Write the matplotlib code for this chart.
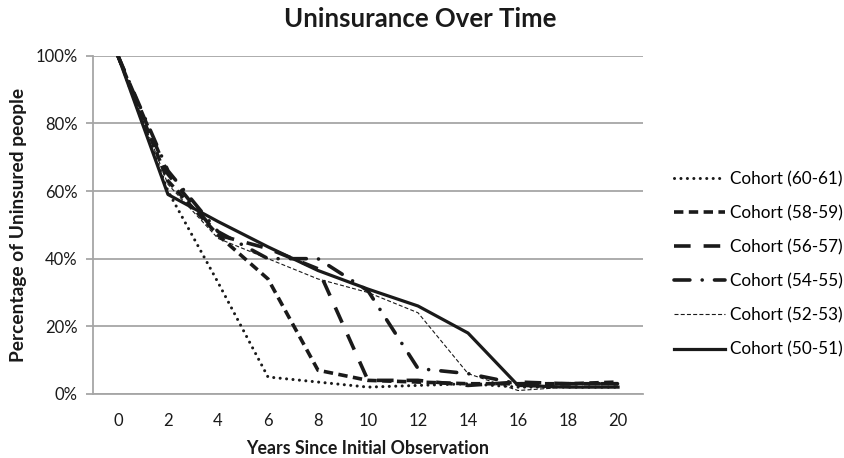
import matplotlib
matplotlib.use("Agg")
import matplotlib.pyplot as plt
from matplotlib.ticker import FuncFormatter

plt.rcParams['font.family'] = ['Lato', 'DejaVu Sans']

years = [0, 2, 4, 6, 8, 10, 12, 14, 16, 18, 20]
labels = ["Cohort (60-61)", "Cohort (58-59)", "Cohort (56-57)",
          "Cohort (54-55)", "Cohort (52-53)", "Cohort (50-51)"]
c_60_61 = [100, 60, 33, 5, 3.5, 2, 2.5, 3, 2, 2, 2]
c_58_59 = [100, 63, 47, 34, 7, 4, 3.5, 3, 3, 3, 3.5]
c_56_57 = [100, 65, 47, 43, 37, 4, 4, 2.5, 3.5, 3, 3]
c_54_55 = [100, 66, 48, 40, 40, 30.5, 7.5, 6, 3, 3, 3]
c_52_53 = [100, 62, 46, 40, 34, 30, 24, 6, 1, 2, 2]
c_50_51 = [100, 59, 51, 43.5, 36.5, 31, 26, 18, 2.5, 2, 2]
series = [c_60_61, c_58_59, c_56_57, c_54_55, c_52_53, c_50_51]

styles = [
    dict(lw=2.2, ls=(0, (0.01, 2.1)), dash_capstyle='round'),
    dict(lw=2.6, ls=(0, (2.6, 1.5))),
    dict(lw=2.6, ls=(0, (4.6, 3.6))),
    dict(lw=2.6, ls=(0, (4.4, 3.4, 0.01, 3.4)), dash_capstyle='round'),
    dict(lw=0.8, ls=(0, (3.6, 2.0))),
    dict(lw=2.3, ls='-'),
]

fig = plt.figure(figsize=(8.45, 4.58), dpi=100)
ax = fig.add_axes([0.110, 0.140, 0.651, 0.738])

for vals, lab, st in zip(series, labels, styles):
    ax.plot(years, vals, color='#1a1a1a', label=lab, **st)

ax.set_xlim(-1, 21)
ax.set_ylim(0, 100)
ax.set_xticks(years)
ax.set_yticks([0, 20, 40, 60, 80, 100])
ax.yaxis.set_major_formatter(FuncFormatter(lambda v, p: f"{int(v)}%"))
ax.grid(axis='y', color='#a6a6a6', lw=1.3)
ax.set_axisbelow(True)
for s in ['top', 'right']:
    ax.spines[s].set_visible(False)
for s in ['left', 'bottom']:
    ax.spines[s].set_color('#a6a6a6')
    ax.spines[s].set_linewidth(1.3)
ax.tick_params(axis='x', length=0, pad=14, labelsize=12, labelcolor='#1a1a1a')
ax.tick_params(axis='y', length=5, color='#a6a6a6', width=1.3, labelsize=12,
               labelcolor='#1a1a1a', pad=6)

ax.set_xlabel("Years Since Initial Observation", fontsize=12.8, fontweight='bold',
              labelpad=8, color='#1a1a1a')
ax.set_ylabel("Percentage of Uninsured people", fontsize=13.8, fontweight='bold',
              labelpad=6, color='#1a1a1a')
fig.text(0.497, 0.958, "Uninsurance Over Time", ha='center', va='center',
         fontsize=18.5, fontweight='bold', color='#1a1a1a')

leg = fig.legend(loc='center left', bbox_to_anchor=(0.779, 0.423), frameon=False,
                 fontsize=12.3, handlelength=3.0, handletextpad=0.3,
                 labelspacing=1.05)

fig.savefig("out.png", dpi=100)
